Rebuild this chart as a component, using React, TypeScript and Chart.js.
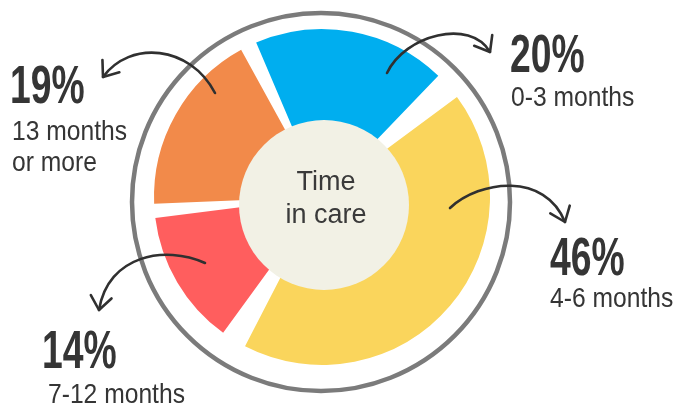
import React, { useEffect, useRef } from "react";
import { Chart, registerables } from "chart.js";

Chart.register(...registerables);

// ---- data ----
const categories = ["0-3 months", "4-6 months", "7-12 months", "13 months or more"];
const shares = [20, 46, 14, 19];
const subtitleLines = [["0-3 months"], ["4-6 months"], ["7-12 months"], ["13 months", "or more"]];
const centerLines = ["Time", "in care"];

// ---- styles ----
const sliceColors = ["#00AEEF", "#FAD55C", "#FF5E5E", "#F28A4A"];
const TEXT = "#353535";
const RING = "#7b7b7b";
const HUB = "#F2F1E5";

// ---- layout (offsets relative to the doughnut centre) ----
type Pt = [number, number];
const labelPos: { pct: Pt; sub: Pt[] }[] = [
  { pct: [188, -125], sub: [[189, -91]] },
  { pct: [228, 78], sub: [[228, 110]] },
  { pct: [-280, 171], sub: [[-274, 206]] },
  { pct: [-312, -94], sub: [[-310, -57], [-310, -26]] },
];
const arrowPath: Pt[][] = [
  [[65, -124], [83, -162], [148, -179], [168, -145]],
  [[128, 11], [158, -17], [223, -25], [243, 25]],
  [[-117, 66], [-157, 48], [-214, 58], [-223, 113]],
  [[-107, -104], [-132, -152], [-192, -157], [-219, -120]],
];

function scaledText(ctx: CanvasRenderingContext2D, text: string, x: number, y: number, font: string, sx: number) {
  ctx.save();
  ctx.translate(x, y);
  ctx.scale(sx, 1);
  ctx.font = font;
  ctx.textAlign = "left";
  ctx.textBaseline = "alphabetic";
  ctx.fillText(text, 0, 0);
  ctx.restore();
}

const decor = {
  id: "decor",
  beforeDatasetsDraw(chart: any) {
    const arc = chart.getDatasetMeta(0).data[0];
    if (!arc) return;
    const ctx: CanvasRenderingContext2D = chart.ctx;
    const { x, y } = arc;
    ctx.save();
    ctx.beginPath();
    ctx.arc(x - 1, y + 5, 189, 0, Math.PI * 2);
    ctx.strokeStyle = RING;
    ctx.lineWidth = 4.5;
    ctx.stroke();
    ctx.restore();
  },
  afterDatasetsDraw(chart: any) {
    const meta = chart.getDatasetMeta(0);
    const arc = meta.data[0];
    if (!arc) return;
    const ctx: CanvasRenderingContext2D = chart.ctx;
    const { x, y } = arc;
    ctx.save();
    // hub
    ctx.beginPath();
    ctx.arc(x + 2, y + 8, 85, 0, Math.PI * 2);
    ctx.fillStyle = HUB;
    ctx.fill();
    ctx.fillStyle = "#3a3a3a";
    ctx.font = "27px 'Liberation Sans', Arial, sans-serif";
    ctx.textAlign = "center";
    ctx.textBaseline = "alphabetic";
    ctx.fillText(centerLines[0], x + 4, y - 7);
    ctx.fillText(centerLines[1], x + 4, y + 26);

    // arrows
    ctx.strokeStyle = "#303030";
    ctx.lineWidth = 2.6;
    ctx.lineCap = "round";
    ctx.lineJoin = "round";
    arrowPath.forEach((p) => {
      const q = p.map(([dx, dy]) => [x + dx, y + dy]);
      ctx.beginPath();
      ctx.moveTo(q[0][0], q[0][1]);
      ctx.bezierCurveTo(q[1][0], q[1][1], q[2][0], q[2][1], q[3][0], q[3][1]);
      ctx.stroke();
      const bx = q[2][0] - q[3][0];
      const by = q[2][1] - q[3][1];
      const ang = Math.atan2(by, bx);
      const L = 17;
      const spread = (38 * Math.PI) / 180;
      ctx.beginPath();
      ctx.moveTo(q[3][0] + Math.cos(ang + spread) * L, q[3][1] + Math.sin(ang + spread) * L);
      ctx.lineTo(q[3][0], q[3][1]);
      ctx.lineTo(q[3][0] + Math.cos(ang - spread) * L, q[3][1] + Math.sin(ang - spread) * L);
      ctx.stroke();
    });

    // labels
    ctx.fillStyle = TEXT;
    shares.forEach((v, i) => {
      const lp = labelPos[i];
      scaledText(ctx, `${v}%`, x + lp.pct[0], y + lp.pct[1], "bold 54px 'Liberation Sans', Arial, sans-serif", 0.69);
      subtitleLines[i].forEach((line, j) => {
        const sp = lp.sub[j];
        scaledText(ctx, line, x + sp[0], y + sp[1], "28px 'Liberation Sans', Arial, sans-serif", 0.88);
      });
    });
    ctx.restore();
  },
};

export default function App() {
  const ref = useRef<HTMLCanvasElement | null>(null);
  useEffect(() => {
    if (!ref.current) return;
    const chart = new Chart(ref.current, {
      type: "doughnut",
      data: {
        labels: categories,
        datasets: [
          {
            data: shares,
            backgroundColor: sliceColors,
            borderWidth: 0,
            spacing: 18,
          } as any,
        ],
      },
      options: {
        responsive: false,
        maintainAspectRatio: false,
        devicePixelRatio: 1,
        animation: false,
        events: [],
        rotation: -26,
        radius: 159,
        cutout: "35%",
        layout: { padding: { left: 0, right: 33, top: 0, bottom: 12 } },
        plugins: { legend: { display: false }, tooltip: { enabled: false } },
      } as any,
      plugins: [decor],
    });
    return () => chart.destroy();
  }, []);
  return (
    <div style={{ position: "fixed", left: 0, top: 0, width: 677, height: 406, background: "#fff" }}>
      <canvas ref={ref} width={677} height={406} style={{ display: "block" }} />
    </div>
  );
}
